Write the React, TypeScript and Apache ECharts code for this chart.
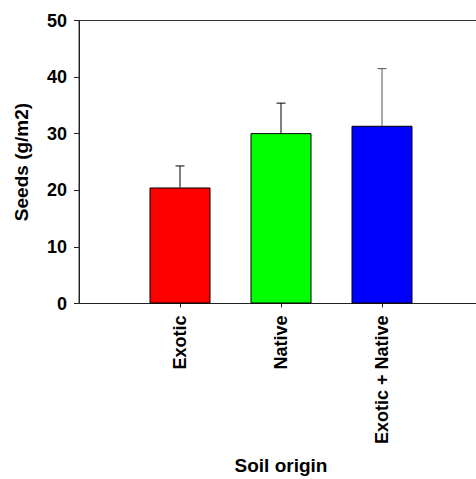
import React, { useEffect, useRef } from "react";
import * as echarts from "echarts";

const categories = ["Exotic", "Native", "Exotic + Native"];
const positions = [1, 2, 3];
const seeds = [20.5, 30.1, 31.4];
const seErrors = [3.8, 5.3, 10.1];
const barColors = ["#ff0000", "#00ff00", "#0000ff"];
const errorColors = ["#000000", "#000000", "#555555"];
const yTicks = [0, 10, 20, 30, 40, 50];

const FONT = "'Liberation Sans', Arial, Helvetica, sans-serif";

export default function App() {
  const ref = useRef<HTMLDivElement>(null);
  useEffect(() => {
    if (!ref.current) return;
    const chart = echarts.init(ref.current, undefined, { renderer: "svg" });
    const barData = positions.map((p, i) => ({
      value: [p, seeds[i]],
      itemStyle: { color: barColors[i], borderColor: "#000", borderWidth: 1 },
    }));
    const errData = positions.map((p, i) => [p, seeds[i], seeds[i] + seErrors[i], i]);
    chart.setOption({
      animation: false,
      grid: {
        left: 79,
        width: 404,
        top: 20.5,
        height: 283,
        outerBoundsMode: "none",
        containLabel: false,
        show: true,
        borderColor: "#333",
        borderWidth: 1,
        backgroundColor: "transparent",
      },
      xAxis: {
        type: "value",
        min: 0,
        max: 4,
        interval: 1,
        splitLine: { show: false },
        axisLine: { show: true, onZero: false, lineStyle: { color: "#222", width: 1 } },
        axisTick: { show: true, length: 4, customValues: positions, lineStyle: { color: "#222" } },
        axisLabel: {
          customValues: positions,
          rotate: 90,
          margin: 12,
          fontFamily: FONT,
          fontWeight: "bold",
          fontSize: 18,
          color: "#000",
          formatter: (v: number) => {
            const idx = positions.indexOf(Math.round(v));
            return idx >= 0 && Math.abs(v - Math.round(v)) < 1e-6 ? categories[idx] : "";
          },
        },
        name: "Soil origin",
        nameLocation: "middle",
        nameGap: 152,
        nameTextStyle: { fontFamily: FONT, fontWeight: "bold", fontSize: 19, color: "#000" },
      },
      yAxis: {
        type: "value",
        min: yTicks[0],
        max: yTicks[yTicks.length - 1],
        interval: 10,
        splitLine: { show: false },
        axisLine: { show: true, lineStyle: { color: "#222", width: 1 } },
        axisTick: { show: true, length: 5, lineStyle: { color: "#222" } },
        axisLabel: {
          margin: 12,
          fontFamily: FONT,
          fontWeight: "bold",
          fontSize: 18,
          color: "#000",
        },
        name: "Seeds (g/m2)",
        nameLocation: "middle",
        nameGap: 48,
        nameRotate: 90,
        nameTextStyle: { fontFamily: FONT, fontWeight: "bold", fontSize: 19, color: "#000" },
      },
      series: [
        {
          type: "bar",
          data: barData,
          barWidth: 61,
        },
        {
          type: "custom",
          data: errData,
          z: 1,
          renderItem: (params: any, api: any) => {
            const x = api.value(0);
            const lo = api.coord([x, api.value(1)]);
            const hi = api.coord([x, api.value(2)]);
            const idx = api.value(3);
            const color = errorColors[idx];
            const half = 4.5;
            return {
              type: "group",
              children: [
                {
                  type: "line",
                  shape: { x1: lo[0], y1: lo[1], x2: hi[0], y2: hi[1] },
                  style: { stroke: color, lineWidth: 1 },
                },
                {
                  type: "line",
                  shape: { x1: hi[0] - half, y1: hi[1], x2: hi[0] + half, y2: hi[1] },
                  style: { stroke: color, lineWidth: 1 },
                },
              ],
            };
          },
        },
      ],
    });
    return () => chart.dispose();
  }, []);
  return (
    <div
      ref={ref}
      style={{ position: "fixed", left: 0, top: 0, width: 476, height: 479, background: "#fff" }}
    />
  );
}
